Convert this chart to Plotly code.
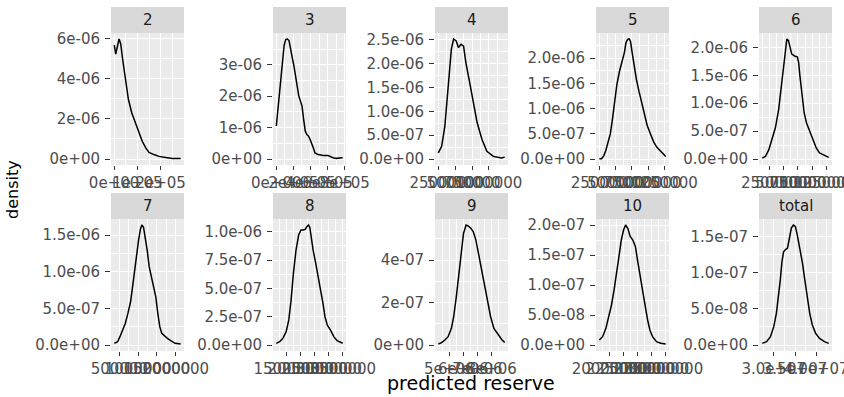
import plotly.graph_objects as go

# ---------------- data ----------------
panels = ["2", "3", "4", "5", "6", "7", "8", "9", "10", "total"]

x_2 = [1000, 7100, 21400, 28600, 35700, 47100, 61400, 75700, 92900, 107000, 121000,
       136000, 150000, 171000, 193000, 221000, 250000, 286000]
d_2 = [5.67e-6, 5.22e-6, 5.97e-6, 5.72e-6, 5.05e-6, 4.13e-6, 2.97e-6, 2.30e-6, 1.72e-6,
       1.30e-6, 0.88e-6, 0.55e-6, 0.33e-6, 0.22e-6, 0.13e-6, 0.08e-6, 0.03e-6, 0.02e-6]

x_3 = [500, 15200, 34300, 53300, 72400, 91400, 110000, 130000, 149000, 168000, 187000,
       206000, 225000, 244000, 263000, 282000, 301000, 320000, 339000, 358000, 377000,
       396000, 415000, 434000, 453000, 491000, 549000, 606000, 663000, 701000, 777000]
d_3 = [1.05e-6, 1.47e-6, 2.11e-6, 2.75e-6, 3.29e-6, 3.61e-6, 3.80e-6, 3.82e-6, 3.77e-6,
       3.55e-6, 3.23e-6, 2.97e-6, 2.59e-6, 2.22e-6, 2.01e-6, 1.85e-6, 1.69e-6, 1.26e-6,
       0.89e-6, 0.78e-6, 0.73e-6, 0.62e-6, 0.51e-6, 0.35e-6, 0.19e-6, 0.14e-6, 0.11e-6,
       0.11e-6, 0.04e-6, 0.02e-6, 0.04e-6]

x_4 = [254000, 303000, 350000, 397000, 446000, 479000, 517000, 550000, 589000, 626000,
       660000, 707000, 764000, 826000, 897000, 969000, 1064000, 1183000, 1231000]
d_4 = [0.127e-6, 0.266e-6, 0.686e-6, 1.53e-6, 2.31e-6, 2.52e-6, 2.48e-6, 2.34e-6, 2.41e-6,
       2.37e-6, 2.02e-6, 1.67e-6, 1.25e-6, 0.76e-6, 0.41e-6, 0.16e-6, 0.055e-6, 0.02e-6,
       0.04e-6]

x_5 = [250000, 285000, 320000, 350000, 385000, 420000, 450000, 485000, 520000, 560000,
       600000, 635000, 660000, 685000, 710000, 730000, 750000, 785000, 820000, 860000,
       900000, 940000, 985000, 1035000, 1085000, 1135000, 1185000, 1235000, 1270000]
d_5 = [0.005e-6, 0.007e-6, 0.067e-6, 0.168e-6, 0.336e-6, 0.503e-6, 0.772e-6, 1.17e-6,
       1.48e-6, 1.74e-6, 1.91e-6, 2.11e-6, 2.31e-6, 2.37e-6, 2.38e-6, 2.33e-6, 2.15e-6,
       1.85e-6, 1.58e-6, 1.34e-6, 1.11e-6, 0.87e-6, 0.67e-6, 0.50e-6, 0.34e-6, 0.23e-6,
       0.17e-6, 0.10e-6, 0.047e-6]

x_6 = [123600, 181000, 238500, 296000, 353400, 411000, 451000, 485600, 508600, 531600,
       554600, 583300, 612000, 640800, 669500, 698300, 738500, 761500, 784500, 824700,
       859200, 899400, 956900, 1014400, 1071800, 1129300, 1215500, 1290200]
d_6 = [0.018e-6, 0.048e-6, 0.168e-6, 0.348e-6, 0.559e-6, 0.889e-6, 1.25e-6, 1.55e-6,
       1.82e-6, 2.03e-6, 2.15e-6, 2.12e-6, 1.97e-6, 1.88e-6, 1.86e-6, 1.84e-6, 1.83e-6,
       1.73e-6, 1.49e-6, 1.13e-6, 0.829e-6, 0.649e-6, 0.50e-6, 0.348e-6, 0.198e-6,
       0.108e-6, 0.06e-6, 0.03e-6]

x_7 = [367700, 455900, 517600, 588200, 658800, 729300, 799900, 852800, 905700, 958600,
       1011600, 1064500, 1099800, 1143900, 1188000, 1240900, 1293800, 1355500, 1417300,
       1470200, 1523100, 1576000, 1629000, 1690700, 1778900, 1867100, 1981800, 2131700]
d_7 = [0.023e-6, 0.045e-6, 0.114e-6, 0.205e-6, 0.295e-6, 0.432e-6, 0.591e-6, 0.795e-6,
       1.02e-6, 1.25e-6, 1.43e-6, 1.59e-6, 1.64e-6, 1.61e-6, 1.48e-6, 1.30e-6, 1.07e-6,
       0.932e-6, 0.795e-6, 0.659e-6, 0.432e-6, 0.25e-6, 0.159e-6, 0.127e-6, 0.091e-6,
       0.059e-6, 0.023e-6, 0.014e-6]

x_8 = [1123500, 1241200, 1358800, 1476500, 1570600, 1652900, 1735300, 1829400, 1923500,
       2005900, 2088200, 2158800, 2217700, 2276500, 2323500, 2370600, 2441200, 2535300,
       2629400, 2711800, 2794100, 2864700, 2947100, 3064700, 3182400, 3300000, 3417700,
       3500000]
d_8 = [0.015e-6, 0.029e-6, 0.059e-6, 0.118e-6, 0.221e-6, 0.397e-6, 0.632e-6, 0.838e-6,
       0.971e-6, 1.015e-6, 1.015e-6, 1.021e-6, 1.044e-6, 1.059e-6, 1.038e-6, 0.956e-6,
       0.838e-6, 0.721e-6, 0.603e-6, 0.485e-6, 0.368e-6, 0.25e-6, 0.176e-6, 0.132e-6,
       0.074e-6, 0.038e-6, 0.021e-6, 0.015e-6]

x_9 = [4238500, 4469200, 4700000, 4930800, 5161500, 5323100, 5507700, 5692300, 5853800,
       6015400, 6200000, 6361500, 6546200, 6707700, 6892300, 7076900, 7261500, 7469200,
       7700000, 7930800, 8161500, 8461500, 8738500, 8923100]
d_9 = [0.047e-7, 0.11e-7, 0.235e-7, 0.392e-7, 0.784e-7, 1.33e-7, 2.27e-7, 3.37e-7, 4.47e-7,
       5.25e-7, 5.65e-7, 5.60e-7, 5.49e-7, 5.33e-7, 4.94e-7, 4.31e-7, 3.61e-7, 2.90e-7,
       2.12e-7, 1.33e-7, 0.784e-7, 0.47e-7, 0.235e-7, 0.125e-7]

x_10 = [18095200, 18690500, 19285700, 19761900, 20297600, 20773800, 21190500, 21666700,
        22083300, 22500000, 22857100, 23273800, 23690500, 24166700, 24642900, 25059500,
        25476200, 25952400, 26428600, 26845200, 27261900, 27738100, 28452400, 29226200,
        30119000]
d_10 = [0.083e-7, 0.139e-7, 0.278e-7, 0.444e-7, 0.667e-7, 0.917e-7, 1.19e-7, 1.47e-7,
        1.75e-7, 1.92e-7, 2.00e-7, 1.94e-7, 1.81e-7, 1.75e-7, 1.64e-7, 1.39e-7, 1.14e-7,
        0.917e-7, 0.639e-7, 0.417e-7, 0.25e-7, 0.139e-7, 0.056e-7, 0.028e-7, 0.017e-7]

x_total = [27307700, 28307700, 29230800, 30000000, 30615400, 31153800, 31538500, 31923100,
           32307700, 32769200, 33230800, 33692300, 34153800, 34615400, 35076900, 35538500,
           36153800, 36769200, 37307700, 37846200, 38461500, 39076900, 39846200, 40769200,
           41923100, 42923100]
d_total = [0.023e-7, 0.046e-7, 0.115e-7, 0.254e-7, 0.438e-7, 0.669e-7, 0.90e-7, 1.15e-7,
           1.29e-7, 1.32e-7, 1.34e-7, 1.48e-7, 1.62e-7, 1.66e-7, 1.64e-7, 1.52e-7, 1.34e-7,
           1.13e-7, 0.90e-7, 0.669e-7, 0.438e-7, 0.277e-7, 0.162e-7, 0.092e-7, 0.046e-7,
           0.023e-7]

xs = [x_2, x_3, x_4, x_5, x_6, x_7, x_8, x_9, x_10, x_total]
ds = [d_2, d_3, d_4, d_5, d_6, d_7, d_8, d_9, d_10, d_total]

x_tickvals = [
    [0, 1e5, 2e5],
    [0, 2e5, 4e5, 6e5, 8e5],
    [250000, 500000, 750000, 1000000],
    [250000, 500000, 750000, 1000000, 1250000],
    [250000, 500000, 750000, 1000000, 1250000],
    [500000, 1000000, 1500000, 2000000],
    [1500000, 2000000, 2500000, 3000000, 3500000],
    [5e6, 6e6, 7e6, 8e6],
    [20000000, 22500000, 25000000, 27500000, 30000000],
    [3.0e7, 3.5e7, 4.0e7],
]
x_ticktext = [
    ["0e+00", "1e+05", "2e+05"],
    ["0e+00", "2e+05", "4e+05", "6e+05", "8e+05"],
    ["250000", "500000", "750000", "1000000"],
    ["250000", "500000", "750000", "1000000", "1250000"],
    ["250000", "500000", "750000", "1000000", "1250000"],
    ["500000", "1000000", "1500000", "2000000"],
    ["1500000", "2000000", "2500000", "3000000", "3500000"],
    ["5e+06", "6e+06", "7e+06", "8e+06"],
    ["20000000", "22500000", "25000000", "27500000", "30000000"],
    ["3.0e+07", "3.5e+07", "4.0e+07"],
]
y_tickvals = [
    [0, 2e-6, 4e-6, 6e-6],
    [0, 1e-6, 2e-6, 3e-6],
    [0, 5e-7, 1e-6, 1.5e-6, 2e-6, 2.5e-6],
    [0, 5e-7, 1e-6, 1.5e-6, 2e-6],
    [0, 5e-7, 1e-6, 1.5e-6, 2e-6],
    [0, 5e-7, 1e-6, 1.5e-6],
    [0, 2.5e-7, 5e-7, 7.5e-7, 1e-6],
    [0, 2e-7, 4e-7],
    [0, 5e-8, 1e-7, 1.5e-7, 2e-7],
    [0, 5e-8, 1e-7, 1.5e-7],
]
y_ticktext = [
    ["0e+00", "2e-06", "4e-06", "6e-06"],
    ["0e+00", "1e-06", "2e-06", "3e-06"],
    ["0.0e+00", "5.0e-07", "1.0e-06", "1.5e-06", "2.0e-06", "2.5e-06"],
    ["0.0e+00", "5.0e-07", "1.0e-06", "1.5e-06", "2.0e-06"],
    ["0.0e+00", "5.0e-07", "1.0e-06", "1.5e-06", "2.0e-06"],
    ["0.0e+00", "5.0e-07", "1.0e-06", "1.5e-06"],
    ["0.0e+00", "2.5e-07", "5.0e-07", "7.5e-07", "1.0e-06"],
    ["0e+00", "2e-07", "4e-07"],
    ["0.0e+00", "5.0e-08", "1.0e-07", "1.5e-07", "2.0e-07"],
    ["0.0e+00", "5.0e-08", "1.0e-07", "1.5e-07"],
]

# ---------------- layout geometry (pixels) ----------------
W, H = 844, 397
col_left = [111, 273, 435, 596, 759]
panel_w = 73
row_geom = [(33, 165, 7), (219, 351, 193)]  # panel top, panel bottom, strip top
TICKFONT = dict(family="DejaVu Sans", size=15, color="#4D4D4D")


def expand(lo, hi, frac=0.05):
    s = hi - lo
    return [lo - frac * s, hi + frac * s]


def minors(major, rng):
    step = major[1] - major[0]
    cand = [m - step / 2 for m in major] + [major[-1] + step / 2]
    return [v for v in cand if rng[0] <= v <= rng[1]]


fig = go.Figure()
layout = dict(
    width=W, height=H, margin=dict(l=0, r=0, t=0, b=0),
    paper_bgcolor="white", plot_bgcolor="#EBEBEB", showlegend=False,
    shapes=[], annotations=[],
)

for i, name in enumerate(panels):
    r, c = divmod(i, 5)
    top, bot, stop = row_geom[r]
    left = col_left[c]
    sfx = "" if i == 0 else str(i + 1)
    fig.add_trace(go.Scatter(x=xs[i], y=ds[i], mode="lines",
                             line=dict(color="black", width=1.5),
                             xaxis="x" + sfx, yaxis="y" + sfx, hoverinfo="skip"))
    xr = expand(min(xs[i]), max(xs[i]))
    yr = expand(0.0, max(ds[i]))
    common = dict(tickmode="array", ticks="outside", tickwidth=1, tickcolor="#333333",
                  showgrid=True, gridcolor="white", gridwidth=1.4, zeroline=False,
                  showline=False, tickfont=TICKFONT, automargin=False, fixedrange=True,
                  ticklabeloverflow="allow")
    layout["xaxis" + sfx] = dict(
        common, domain=[left / W, (left + panel_w) / W], anchor="y" + sfx, range=xr,
        tickvals=x_tickvals[i], ticktext=x_ticktext[i], tickangle=0, ticklen=4,
        minor=dict(tickmode="array", tickvals=minors(x_tickvals[i], xr), showgrid=True,
                   gridcolor="white", gridwidth=0.7, ticks=""))
    layout["yaxis" + sfx] = dict(
        common, domain=[1 - bot / H, 1 - top / H], anchor="x" + sfx, range=yr,
        tickvals=y_tickvals[i], ticktext=y_ticktext[i], ticklen=5, ticklabelstandoff=2,
        minor=dict(tickmode="array", tickvals=minors(y_tickvals[i], yr), showgrid=True,
                   gridcolor="white", gridwidth=0.7, ticks=""))
    # facet strip
    layout["shapes"].append(dict(type="rect", xref="paper", yref="paper",
                                 x0=left / W, x1=(left + panel_w) / W,
                                 y0=1 - top / H, y1=1 - stop / H,
                                 fillcolor="#D9D9D9", line=dict(width=0), layer="below"))
    layout["annotations"].append(dict(text=name, xref="paper", yref="paper",
                                      x=(left + panel_w / 2) / W, y=1 - (stop + top) / 2 / H,
                                      xanchor="center", yanchor="middle", showarrow=False,
                                      font=dict(family="DejaVu Sans", size=15, color="#1A1A1A")))

layout["annotations"].append(dict(text="predicted reserve", xref="paper", yref="paper",
                                  x=471 / W, y=1 - 383 / H, xanchor="center", yanchor="middle",
                                  showarrow=False,
                                  font=dict(family="DejaVu Sans", size=19, color="black")))
layout["annotations"].append(dict(text="density", xref="paper", yref="paper",
                                  x=12 / W, y=1 - 190 / H, xanchor="center", yanchor="middle",
                                  textangle=-90, showarrow=False,
                                  font=dict(family="DejaVu Sans", size=16, color="black")))

fig.update_layout(**layout)
fig.write_html("out.html")
